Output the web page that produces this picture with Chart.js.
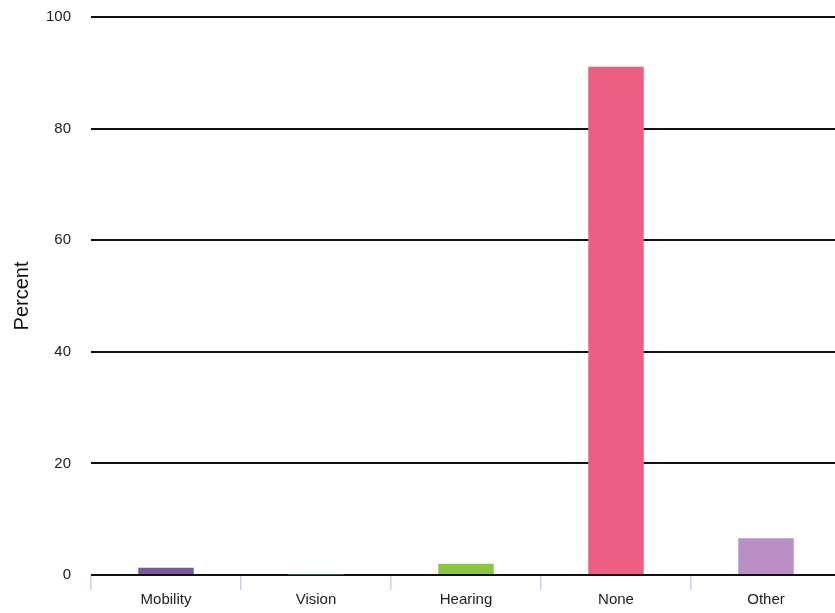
<!DOCTYPE html>
<html>
<head>
<meta charset="utf-8">
<script src="https://cdn.jsdelivr.net/npm/chart.js@4"></script>
<style>
  html, body { margin: 0; padding: 0; background: #fff; overflow: hidden; }
  #wrap { width: 841px; height: 625px; position: relative; margin-top: -12px; }
</style>
</head>
<body>
<div id="wrap"><canvas id="barChart"></canvas></div>
<script>
const categories = ["Mobility", "Vision", "Hearing", "None", "Other"];
const percents = [1.3, 0.1, 2.0, 91.1, 6.6];
const barColors = ["#7a5a9b", "#5f9ea8", "#8cc63f", "#ec5f82", "#b98fc6"];
const yTicks = [0, 20, 40, 60, 80, 100];

const ctx = document.getElementById("barChart").getContext("2d");
new Chart(ctx, {
    type: 'bar',
    data: {
        labels: categories,
        datasets: [{
            label: 'Percent',
            data: percents,
            backgroundColor: barColors,
            borderWidth: 0,
            barPercentage: 0.37,
            categoryPercentage: 1
        }]
    },
    options: {
        responsive: true,
        maintainAspectRatio: false,
        animation: false,
        layout: { padding: { top: -4, bottom: 0, left: 4, right: 0 } },
        plugins: {
            legend: { display: false },
            tooltip: { enabled: false }
        },
        scales: {
            x: {
                afterFit: axis => { axis.height = 38; },
                grid: {
                    offset: true,
                    drawOnChartArea: false,
                    drawTicks: true,
                    tickLength: 15,
                    color: '#c9d2e3',
                    lineWidth: 1.5
                },
                border: { display: false },
                ticks: {
                    color: '#222',
                    font: { family: 'Liberation Sans', size: 15 },
                    padding: 1
                }
            },
            y: {
                min: 0,
                max: 100,
                afterBuildTicks: axis => { axis.ticks = yTicks.map(v => ({ value: v })); },
                afterFit: axis => { axis.width = 87; },
                grid: {
                    color: '#111',
                    lineWidth: 2,
                    drawTicks: false
                },
                border: { display: false },
                ticks: {
                    color: '#222',
                    font: { family: 'Liberation Sans', size: 15 },
                    padding: 20
                },
                title: {
                    display: true,
                    text: 'Percent',
                    color: '#111',
                    font: { family: 'Liberation Sans', size: 20 },
                    padding: { top: 6, bottom: 0 }
                }
            }
        }
    }
});
</script>
</body>
</html>
